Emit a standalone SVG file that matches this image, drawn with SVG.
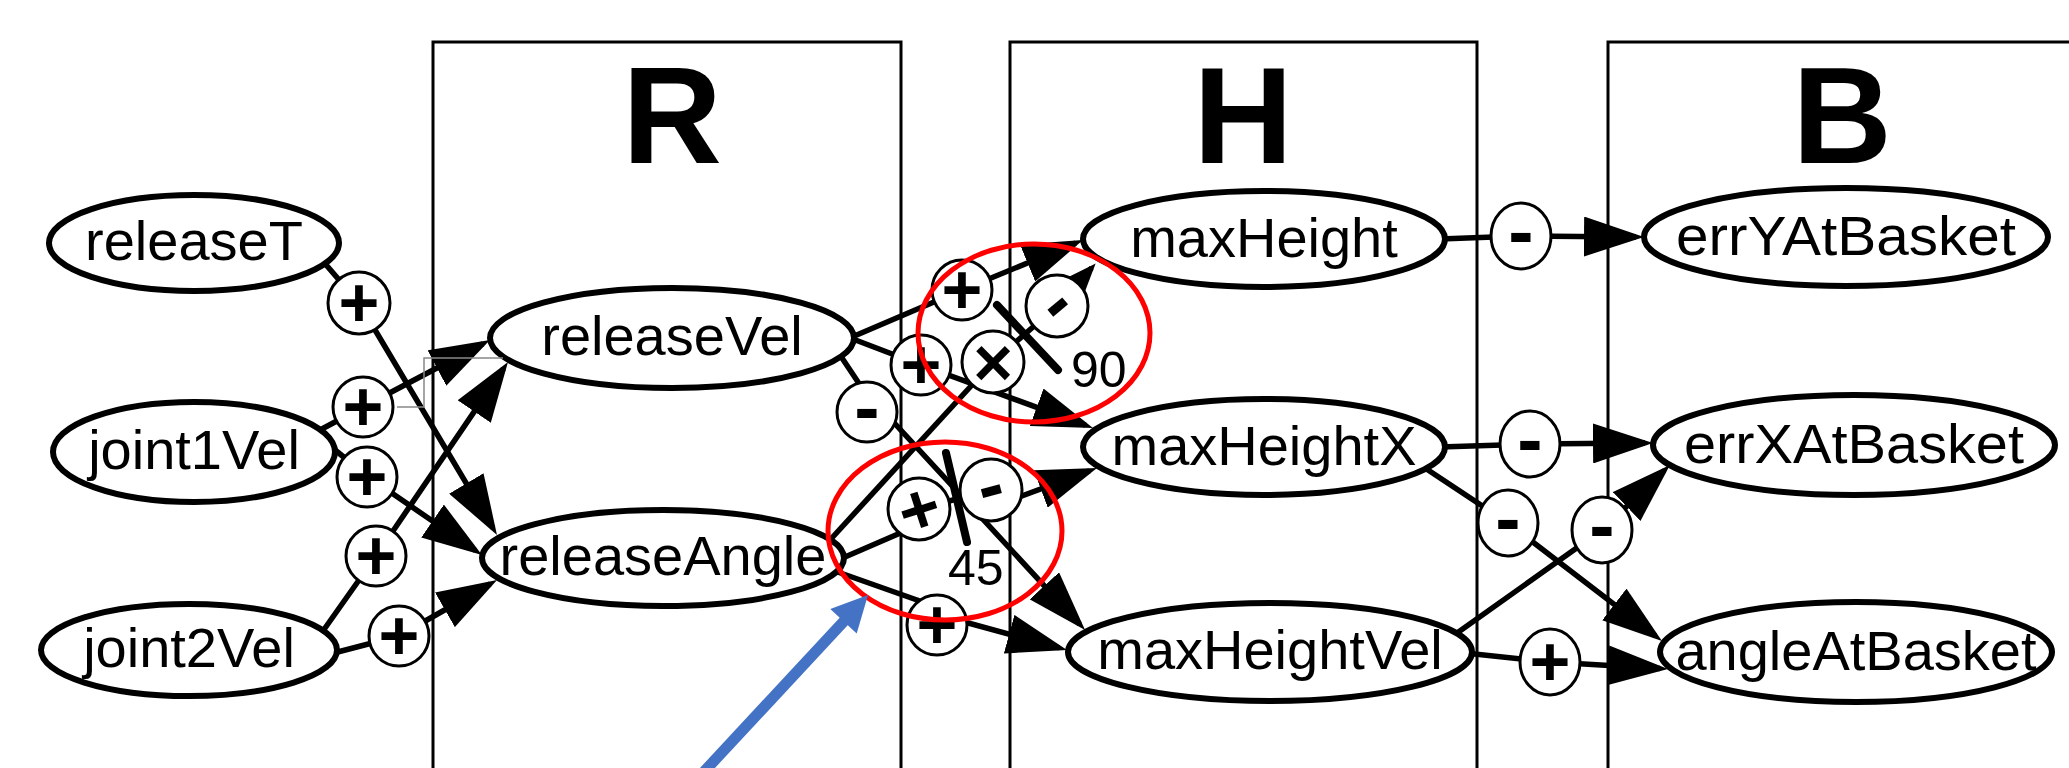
<svg xmlns="http://www.w3.org/2000/svg" width="2069" height="768" viewBox="0 0 2069 768">
  <style>
    .box { fill: none; stroke: #000; stroke-width: 3; }
    .title { font-family: "Liberation Sans", Arial, sans-serif; font-weight: bold; font-size: 138px; text-anchor: middle; fill: #000; }
    .node ellipse { fill: #fff; stroke: #000; stroke-width: 6; }
    .node text { font-family: "Liberation Sans", Arial, sans-serif; font-size: 56px; text-anchor: middle; fill: #000; }
    .edge { fill: none; stroke: #000; stroke-width: 5.5; stroke-linejoin: round; }
    .sg circle, .sg ellipse { fill: #fff; stroke: #000; stroke-width: 3; }
    .sg text { font-family: "Liberation Sans", Arial, sans-serif; font-weight: bold; text-anchor: middle; fill: #000; }
    .p { font-size: 70px; }
    .m { font-size: 76px; }
    .x { font-size: 68px; }
    .bar { stroke: #000; stroke-width: 8; stroke-linecap: round; }
    .num { font-family: "Liberation Sans", Arial, sans-serif; font-size: 50px; fill: #000; }
    .hl { fill: none; stroke: #ff0000; stroke-width: 5; }
  </style>
  <defs>
    <marker id="arr" markerUnits="userSpaceOnUse" viewBox="0 0 60 40" markerWidth="60" markerHeight="40" refX="52" refY="20" orient="auto">
      <path d="M0,0 L60,20 L0,40 z" fill="#000"/>
    </marker>
    <marker id="arrS" markerUnits="userSpaceOnUse" viewBox="0 0 28 22" markerWidth="28" markerHeight="22" refX="22" refY="11" orient="auto">
      <path d="M0,0 L28,11 L0,22 z" fill="#000"/>
    </marker>
  </defs>
  <rect width="2069" height="768" fill="#fff"/>

  <!-- stage columns -->
  <g id="stages">
    <path class="box" d="M433,775 V42 H901 V775"/>
    <path class="box" d="M1010,775 V42 H1477 V775"/>
    <path class="box" d="M1608,775 V42 H2080"/>
    <text class="title" x="672" y="163">R</text>
    <text class="title" x="1243" y="163">H</text>
    <text class="title" x="1842" y="163">B</text>
  </g>

  <!-- connectors -->
  <g id="connectors">
    <path class="edge" d="M315,252 L359,303 L492.9,528.1" marker-end="url(#arr)"/>
    <path class="edge" d="M320,430 L363,407 L482.9,343.7" marker-end="url(#arr)"/>
    <path class="edge" d="M324,441 L367,476 L475.4,550.5" marker-end="url(#arr)"/>
    <path class="edge" d="M318,638 L376,556 L503.5,368.6" marker-end="url(#arr)"/>
    <path class="edge" d="M330,654 L399,636 L490.1,584" marker-end="url(#arr)"/>

    <path class="edge" d="M845,340 L962,290 L1075.6,243.1" marker-end="url(#arr)"/>
    <path class="edge" d="M845,336 L921,365 L1085.5,425.2" marker-end="url(#arr)"/>
    <path class="edge" d="M838,352 L860,385 L880,407.5 L1079.6,624.1" marker-end="url(#arr)"/>
    <path class="edge" d="M830,540 L993,362"/>
    <path class="edge" d="M993,362 L1057,306 L1091.6,267.9" marker-end="url(#arrS)"/>
    <path class="edge" d="M838,560 L905,531 L919,509 L991,490"/>
    <path class="edge" d="M1000,504 L1089.5,470.8" marker-end="url(#arr)"/>
    <path class="edge" d="M832,570 L917,600 L950,618 L1059.3,647.9" marker-end="url(#arr)"/>

    <path class="edge" d="M1440,239 L1521,236 L1636,237" marker-end="url(#arr)"/>
    <path class="edge" d="M1440,447 L1530,444 L1645,443" marker-end="url(#arr)"/>
    <path class="edge" d="M1425,468 L1508,523 L1655.6,636.1" marker-end="url(#arr)"/>
    <path class="edge" d="M1450,638 L1602,530 L1664.2,470.5" marker-end="url(#arr)"/>
    <path class="edge" d="M1465,653 L1550,662 L1660,668.5" marker-end="url(#arr)"/>
  </g>

  <!-- variable nodes -->
  <g id="releaseT" class="node"><ellipse cx="194" cy="243" rx="145" ry="48"/><text x="194" y="260">releaseT</text></g>
  <g id="joint1Vel" class="node"><ellipse cx="194" cy="452" rx="141" ry="50"/><text x="194" y="469">joint1Vel</text></g>
  <g id="joint2Vel" class="node"><ellipse cx="189" cy="650" rx="148" ry="46"/><text x="189" y="667">joint2Vel</text></g>
  <g id="releaseVel" class="node"><ellipse cx="672" cy="338" rx="182" ry="50"/><text x="672" y="355">releaseVel</text></g>
  <g id="releaseAngle" class="node"><ellipse cx="663" cy="558" rx="181" ry="48"/><text x="663" y="575">releaseAngle</text></g>
  <g id="maxHeight" class="node"><ellipse cx="1264" cy="239" rx="181" ry="48"/><text x="1264" y="257">maxHeight</text></g>
  <g id="maxHeightX" class="node"><ellipse cx="1264" cy="447" rx="181" ry="48"/><text x="1264" y="465">maxHeightX</text></g>
  <g id="maxHeightVel" class="node"><ellipse cx="1270" cy="652" rx="202" ry="49"/><text x="1270" y="669">maxHeightVel</text></g>
  <g id="errYAtBasket" class="node"><ellipse cx="1846" cy="237" rx="202" ry="49"/><text x="1846" y="255" textLength="340" lengthAdjust="spacingAndGlyphs">errYAtBasket</text></g>
  <g id="errXAtBasket" class="node"><ellipse cx="1854" cy="445" rx="201" ry="50"/><text x="1854" y="463" textLength="340" lengthAdjust="spacingAndGlyphs">errXAtBasket</text></g>
  <g id="angleAtBasket" class="node"><ellipse cx="1856" cy="652" rx="196" ry="50"/><text x="1856" y="670">angleAtBasket</text></g>

  <!-- sign nodes -->
  <g id="s-relT-angle" class="sg"><circle cx="359" cy="303" r="31"/><text class="p" x="359" y="327">+</text></g>
  <g id="s-j1-vel" class="sg"><circle cx="363" cy="407" r="30"/><text class="p" x="363" y="431">+</text></g>
  <g id="s-j1-angle" class="sg"><circle cx="367" cy="477" r="30"/><text class="p" x="367" y="501">+</text></g>
  <g id="s-j2-vel" class="sg"><circle cx="376" cy="556" r="30"/><text class="p" x="376" y="580">+</text></g>
  <g id="s-j2-angle" class="sg"><circle cx="399" cy="636" r="30"/><text class="p" x="399" y="660">+</text></g>

  <g id="s-vel-height" class="sg"><circle cx="962" cy="290" r="30"/><text class="p" x="962" y="314">+</text></g>
  <g id="s-height-cut" class="sg"><circle cx="1057" cy="306" r="31"/><text class="m" x="1057" y="327" transform="rotate(-40 1057 306)">-</text></g>
  <g id="s-vel-heightX" class="sg"><circle cx="921" cy="365" r="30"/><text class="p" x="921" y="389">+</text></g>
  <g id="s-product" class="sg"><circle cx="993" cy="362" r="31"/><text class="x" x="993" y="386">×</text></g>
  <g id="s-vel-heightVel" class="sg"><circle cx="867" cy="412" r="30"/><text class="m" x="867" y="433">-</text></g>
  <g id="s-angle-in" class="sg"><circle cx="919" cy="509" r="31"/><text class="p" x="919" y="533" transform="rotate(-18 919 509)">+</text></g>
  <g id="s-angle-out" class="sg"><circle cx="991" cy="490" r="31"/><text class="m" x="991" y="511" transform="rotate(-15 991 490)">-</text></g>
  <g id="s-angle-heightVel" class="sg"><circle cx="937" cy="625" r="30"/><text class="p" x="937" y="649">+</text></g>

  <g id="s-height-errY" class="sg"><ellipse cx="1521" cy="236" rx="30" ry="33"/><text class="m" x="1521" y="257">-</text></g>
  <g id="s-heightX-errX" class="sg"><ellipse cx="1530" cy="444" rx="30" ry="33"/><text class="m" x="1530" y="465">-</text></g>
  <g id="s-heightX-angle" class="sg"><ellipse cx="1508" cy="523" rx="30" ry="33"/><text class="m" x="1508" y="544">-</text></g>
  <g id="s-heightVel-errX" class="sg"><ellipse cx="1602" cy="530" rx="30" ry="33"/><text class="m" x="1602" y="551">-</text></g>
  <g id="s-heightVel-angle" class="sg"><ellipse cx="1550" cy="662" rx="30" ry="33"/><text class="p" x="1550" y="686">+</text></g>

  <!-- threshold bars -->
  <g id="threshold-90">
    <line class="bar" x1="997" y1="305" x2="1058" y2="370"/>
    <text class="num" x="1071" y="387">90</text>
  </g>
  <g id="threshold-45">
    <line class="bar" x1="946" y1="453" x2="967" y2="542"/>
    <text class="num" x="948" y="585">45</text>
  </g>

  <!-- stray selection frame -->
  <path d="M397,407 H424 V358 H503" fill="none" stroke="#888" stroke-width="1.5"/>

  <!-- highlights -->
  <g id="highlights">
    <ellipse class="hl" cx="1034" cy="333" rx="116" ry="89"/>
    <ellipse class="hl" cx="945" cy="531" rx="117" ry="89"/>
  </g>

  <!-- pointer -->
  <g id="pointer">
    <line x1="700" y1="776" x2="846" y2="619" stroke="#4472c4" stroke-width="11"/>
    <polygon points="868,595 856.7,633.6 830.3,609.1" fill="#4472c4"/>
  </g>
</svg>
